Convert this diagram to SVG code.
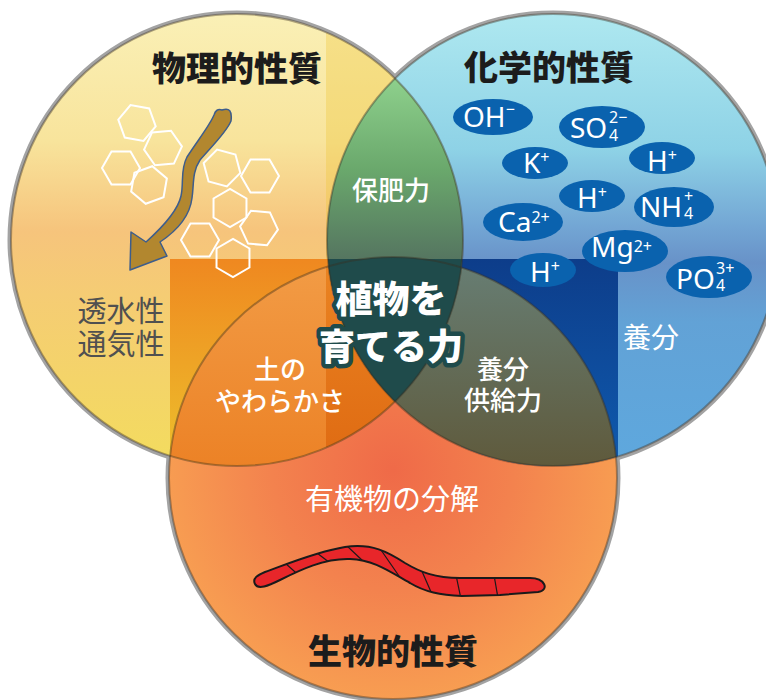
<svg xmlns="http://www.w3.org/2000/svg" width="766" height="700" viewBox="0 0 766 700">
  <defs>
    <style>
      .jp { font-family: "Noto Sans CJK JP", "Noto Sans CJK SC", sans-serif; }
      .title { font-size: 34px; font-weight: 900; fill: #1c1c1c; text-anchor: middle; }
      .wlabel { font-size: 26px; font-weight: 500; fill: #ffffff; text-anchor: middle; }
      .ion { font-family: "Noto Sans", "Open Sans", sans-serif; fill: #ffffff; font-size: 28px; }
      .sup { font-size: 16px; }
      .ionbg { fill: #0a62ae; }
      .hex { fill: none; stroke: #ffffff; stroke-width: 2; }
      .edge { fill: none; stroke: #3a2e1e; stroke-opacity: 0.4; stroke-width: 2; }
    </style>
    <clipPath id="cY"><circle cx="237" cy="240" r="226"/></clipPath>
    <clipPath id="cB"><circle cx="553" cy="240" r="226"/></clipPath>
    <clipPath id="cO"><ellipse cx="393" cy="478" rx="224" ry="221"/></clipPath>
    <clipPath id="cWorm">
      <path id="wormShape" d="M255,584 C252,578 258,575 265,572 C285,565 315,552 345,547 C372,543 388,552 405,563 C420,572 435,578 460,578 L530,578 C545,578 550,590 538,592 L500,595 L462,596 C440,595 425,592 410,583 C390,572 375,560 350,559 C325,558 300,570 280,580 C268,586 258,590 255,584 Z"/>
    </clipPath>
    <linearGradient id="gY" gradientUnits="userSpaceOnUse" x1="0" y1="14" x2="0" y2="466">
      <stop offset="0" stop-color="#faf0b6"/>
      <stop offset="0.28" stop-color="#f8e49c"/>
      <stop offset="0.48" stop-color="#f6c47c"/>
      <stop offset="0.62" stop-color="#f5cc74"/>
      <stop offset="1" stop-color="#f3dc5e"/>
    </linearGradient>
    <linearGradient id="gB" gradientUnits="userSpaceOnUse" x1="0" y1="14" x2="0" y2="466">
      <stop offset="0" stop-color="#aee8f0"/>
      <stop offset="0.3" stop-color="#8ed2e6"/>
      <stop offset="0.47" stop-color="#73a6d4"/>
      <stop offset="0.55" stop-color="#6892c8"/>
      <stop offset="0.68" stop-color="#62a2d6"/>
      <stop offset="1" stop-color="#5ea8de"/>
    </linearGradient>
    <radialGradient id="gO" gradientUnits="userSpaceOnUse" cx="393" cy="470" r="240">
      <stop offset="0" stop-color="#ef6a48"/>
      <stop offset="0.5" stop-color="#f3824e"/>
      <stop offset="1" stop-color="#f8a052"/>
    </radialGradient>
    <linearGradient id="gYO" gradientUnits="userSpaceOnUse" x1="0" y1="259" x2="0" y2="466">
      <stop offset="0" stop-color="#ef8820"/>
      <stop offset="1" stop-color="#edc02c"/>
    </linearGradient>
    <linearGradient id="gDB" gradientUnits="userSpaceOnUse" x1="0" y1="259" x2="0" y2="466">
      <stop offset="0" stop-color="#0d3d8a"/>
      <stop offset="1" stop-color="#0f5aae"/>
    </linearGradient>
    <linearGradient id="gSoftL" gradientUnits="userSpaceOnUse" x1="0" y1="259" x2="0" y2="466">
      <stop offset="0" stop-color="#f29c46"/>
      <stop offset="1" stop-color="#ec8226"/>
    </linearGradient>
    <linearGradient id="gSoftR" gradientUnits="userSpaceOnUse" x1="0" y1="259" x2="0" y2="466">
      <stop offset="0" stop-color="#ea8422"/>
      <stop offset="1" stop-color="#df6a12"/>
    </linearGradient>
    <linearGradient id="gOlive" gradientUnits="userSpaceOnUse" x1="0" y1="260" x2="0" y2="466">
      <stop offset="0" stop-color="#677e74"/>
      <stop offset="1" stop-color="#5f5a3c"/>
    </linearGradient>
    <linearGradient id="gGreen" gradientUnits="userSpaceOnUse" x1="0" y1="79" x2="0" y2="260">
      <stop offset="0" stop-color="#8ed08c"/>
      <stop offset="0.5" stop-color="#6aa86c"/>
      <stop offset="1" stop-color="#557560"/>
    </linearGradient>
    <polygon id="hexShape" points="19,0 9.5,16.5 -9.5,16.5 -19,0 -9.5,-16.5 9.5,-16.5"/>
  </defs>

  <!-- outer rims -->
  <g fill="none" stroke="#a3a3a3" stroke-width="7">
    <circle cx="237" cy="240" r="226"/>
    <circle cx="553" cy="240" r="226"/>
    <ellipse cx="393" cy="478" rx="224" ry="221"/>
  </g>

  <!-- base fills -->
  <g id="circle-physical-base">
    <circle cx="237" cy="240" r="226" fill="url(#gY)"/>
  </g>
  <g id="circle-chemical-base">
    <circle cx="553" cy="240" r="226" fill="url(#gB)"/>
  </g>
  <g id="circle-biological-base">
    <ellipse cx="393" cy="478" rx="224" ry="221" fill="url(#gO)"/>
  </g>

  <!-- tiles inside the yellow circle -->
  <g clip-path="url(#cY)">
    <rect x="326" y="0" width="200" height="259" fill="#eec63a" opacity="0.35"/>
    <rect x="170" y="259" width="300" height="260" fill="url(#gYO)"/>
  </g>
  <!-- tile inside the blue circle -->
  <g clip-path="url(#cB)">
    <rect x="461" y="259" width="157" height="260" fill="url(#gDB)"/>
  </g>

  <!-- yellow ∩ orange -->
  <g id="overlap-softness" clip-path="url(#cY)">
    <g clip-path="url(#cO)">
      <rect x="0" y="200" width="326" height="300" fill="url(#gSoftL)"/>
      <rect x="326" y="200" width="200" height="300" fill="url(#gSoftR)"/>
    </g>
  </g>
  <!-- blue ∩ orange -->
  <g id="overlap-supply" clip-path="url(#cB)">
    <ellipse cx="393" cy="478" rx="224" ry="221" fill="url(#gOlive)"/>
  </g>
  <!-- yellow ∩ blue, with the shared core -->
  <g id="overlap-retention" clip-path="url(#cY)">
    <circle cx="553" cy="240" r="226" fill="url(#gGreen)"/>
    <g clip-path="url(#cB)">
      <ellipse cx="393" cy="478" rx="224" ry="221" fill="#1f4b4b"/>
      <rect x="300" y="259" width="200" height="200" fill="#1f4b4b"/>
    </g>
  </g>

  <!-- inner edges -->
  <g id="edges">
    <circle class="edge" cx="237" cy="240" r="226"/>
    <circle class="edge" cx="553" cy="240" r="226"/>
    <ellipse class="edge" cx="393" cy="478" rx="224" ry="221"/>
  </g>

  <!-- soil particles and water flow -->
  <g id="particles">
    <use href="#hexShape" class="hex" transform="translate(137,123) rotate(10)"/>
    <use href="#hexShape" class="hex" transform="translate(163,148) rotate(-5)"/>
    <use href="#hexShape" class="hex" transform="translate(121,168) rotate(0)"/>
    <use href="#hexShape" class="hex" transform="translate(149,185) rotate(-20)"/>
    <use href="#hexShape" class="hex" transform="translate(222,168) rotate(15)"/>
    <use href="#hexShape" class="hex" transform="translate(260,176) rotate(0)"/>
    <use href="#hexShape" class="hex" transform="translate(230,208) rotate(30)"/>
    <use href="#hexShape" class="hex" transform="translate(259,228) rotate(5)"/>
    <use href="#hexShape" class="hex" transform="translate(200,240) rotate(0)"/>
    <use href="#hexShape" class="hex" transform="translate(233,258) rotate(30)"/>
  </g>
  <g id="water-arrow">
    <path d="M222,110 Q233,106 231,121 C226,133 210,148 200,160 C192,172 194,185 192,198 C190,215 178,230 160,242 L167,256 L130,270 L131,232 L146,242 C165,225 178,210 181,196 C184,183 180,170 187,157 C198,140 210,125 214,115 Q216,108 222,110 Z" fill="#b2872f" stroke="#3d5d8c" stroke-width="1.5" stroke-linejoin="round"/>
  </g>

  <!-- earthworm -->
  <g id="worm">
    <use href="#wormShape" fill="#e8262a"/>
    <g clip-path="url(#cWorm)" stroke="#1a1a1a" stroke-width="1.2">
      <line x1="285" y1="563" x2="303" y2="579"/>
      <line x1="317" y1="553" x2="334" y2="566"/>
      <line x1="346" y1="545" x2="364" y2="562"/>
      <line x1="381" y1="550" x2="399" y2="576"/>
      <line x1="421" y1="569" x2="431" y2="592"/>
      <line x1="456" y1="575" x2="461" y2="599"/>
      <line x1="494" y1="575" x2="498" y2="598"/>
    </g>
    <use href="#wormShape" fill="none" stroke="#1a1a1a" stroke-width="2"/>
  </g>

  <!-- ions -->
  <g id="ions">
    <g id="ion-oh">
      <ellipse class="ionbg" cx="493" cy="117" rx="40" ry="18"/>
      <text class="ion" x="463" y="127">OH<tspan class="sup" dy="-12">−</tspan></text>
    </g>
    <g id="ion-so4">
      <ellipse class="ionbg" cx="602" cy="127" rx="43" ry="21"/>
      <text class="ion" x="570" y="138">SO</text>
      <text class="ion sup" x="609" y="123">2−</text>
      <text class="ion sup" x="609" y="141">4</text>
    </g>
    <g id="ion-k">
      <ellipse class="ionbg" cx="535" cy="163" rx="33" ry="16"/>
      <text class="ion" x="523" y="173">K<tspan class="sup" dy="-10">+</tspan></text>
    </g>
    <g id="ion-h1">
      <ellipse class="ionbg" cx="662" cy="158" rx="33" ry="16"/>
      <text class="ion" x="647" y="171">H<tspan class="sup" dy="-10">+</tspan></text>
    </g>
    <g id="ion-h2">
      <ellipse class="ionbg" cx="592" cy="196" rx="33" ry="16"/>
      <text class="ion" x="577" y="208">H<tspan class="sup" dy="-10">+</tspan></text>
    </g>
    <g id="ion-nh4">
      <ellipse class="ionbg" cx="674" cy="207" rx="40" ry="20"/>
      <text class="ion" x="640" y="217">NH</text>
      <text class="ion sup" x="684" y="202">+</text>
      <text class="ion sup" x="684" y="219">4</text>
    </g>
    <g id="ion-ca">
      <ellipse class="ionbg" cx="523" cy="222" rx="40" ry="19"/>
      <text class="ion" x="498" y="232">Ca<tspan class="sup" dy="-9">2+</tspan></text>
    </g>
    <g id="ion-mg">
      <ellipse class="ionbg" cx="625" cy="251" rx="43" ry="21"/>
      <text class="ion" x="591" y="257">Mg<tspan class="sup" dy="-5">2+</tspan></text>
    </g>
    <g id="ion-h3">
      <ellipse class="ionbg" cx="543" cy="270" rx="33" ry="17"/>
      <text class="ion" x="530" y="282">H<tspan class="sup" dy="-10">+</tspan></text>
    </g>
    <g id="ion-po4">
      <ellipse class="ionbg" cx="709" cy="277" rx="43" ry="21"/>
      <text class="ion" x="676" y="289">PO</text>
      <text class="ion sup" x="716" y="274">3+</text>
      <text class="ion sup" x="716" y="291">4</text>
    </g>
  </g>

  <!-- labels -->
  <g id="labels" class="jp">
    <text class="title" x="237" y="81">物理的性質</text>
    <text class="title" x="549" y="80">化学的性質</text>
    <text class="title" x="393" y="664">生物的性質</text>

    <text class="wlabel" x="391" y="200" font-size="27">保肥力</text>

    <text x="121" y="322" font-size="29" fill="#505050" text-anchor="middle">透水性</text>
    <text x="121" y="355" font-size="29" fill="#505050" text-anchor="middle">通気性</text>

    <text x="651" y="348" font-size="28" fill="#ffffff" text-anchor="middle">養分</text>

    <text class="wlabel" x="280" y="379">土の</text>
    <text class="wlabel" x="280" y="411">やわらかさ</text>

    <text class="wlabel" x="503" y="379" font-size="27">養分</text>
    <text class="wlabel" x="503" y="410" font-size="27">供給力</text>

    <text x="392" y="510" font-size="29" font-weight="400" fill="#ffffff" text-anchor="middle">有機物の分解</text>

    <g font-weight="900" fill="#ffffff" stroke="#1f4b4b" stroke-width="9" stroke-linejoin="round" paint-order="stroke" text-anchor="middle">
      <text x="391" y="313" font-size="37">植物を</text>
      <text x="391" y="360" font-size="36">育てる力</text>
    </g>
  </g>
</svg>
